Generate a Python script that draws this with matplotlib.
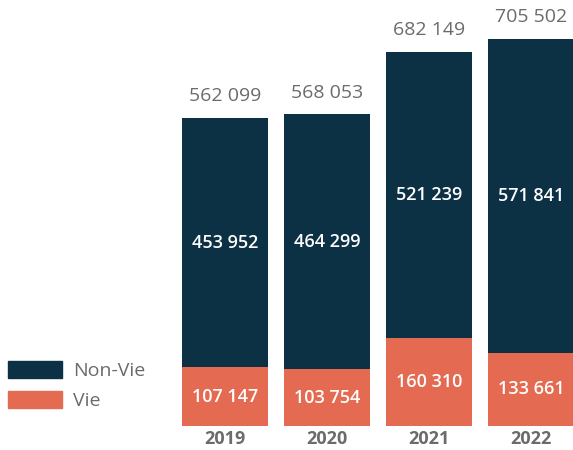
import matplotlib
matplotlib.use("Agg")
import matplotlib.pyplot as plt
from matplotlib.patches import Patch

years = ["2019", "2020", "2021", "2022"]
vie = [107147, 103754, 160310, 133661]
non_vie = [453952, 464299, 521239, 571841]
totals = ["562 099", "568 053", "682 149", "705 502"]

NAVY = "#0c3044"
SALMON = "#e56a52"
GRAY = "#6b6b6b"


def fmt(v):
    return f"{v:,}".replace(",", " ")


plt.rcParams["font.family"] = ["Open Sans", "DejaVu Sans"]

fig = plt.figure(figsize=(5.73, 4.5), dpi=100)
ax = fig.add_axes([0, 24 / 450, 1, 426 / 450])

pos = list(range(len(years)))
w = 86 / 102
ax.bar(pos, vie, width=w, color=SALMON)
ax.bar(pos, non_vie, bottom=vie, width=w, color=NAVY)

for i in pos:
    ax.text(i, vie[i] / 2, fmt(vie[i]), ha="center", va="center",
            color="white", fontsize=13, fontweight="semibold")
    ax.text(i, vie[i] + non_vie[i] / 2, fmt(non_vie[i]), ha="center",
            va="center", color="white", fontsize=13, fontweight="semibold")
    ax.annotate(totals[i], (i, vie[i] + non_vie[i]), xytext=(0, 9),
                textcoords="offset points", ha="center", va="bottom",
                color=GRAY, fontsize=14, fontweight="medium")
    ax.annotate(years[i], (i, 0), xytext=(0, -3), textcoords="offset points",
                ha="center", va="top", color=GRAY, fontsize=13,
                fontweight="bold", annotation_clip=False)

ax.set_xlim(-225 / 102, (573 - 225) / 102)
ax.set_ylim(0, 426 * 561099 / 308)
ax.axis("off")

handles = [Patch(color=NAVY, label="Non-Vie"), Patch(color=SALMON, label="Vie")]
fig.legend(handles=handles, loc="upper left", bbox_to_anchor=(0.0, 1 - 353 / 450),
           frameon=False, fontsize=14, handlelength=2.8, handleheight=1.0,
           handletextpad=0.55, labelspacing=0.55, labelcolor=GRAY,
           borderaxespad=0, borderpad=0.4)

fig.savefig("out.png", dpi=100)
